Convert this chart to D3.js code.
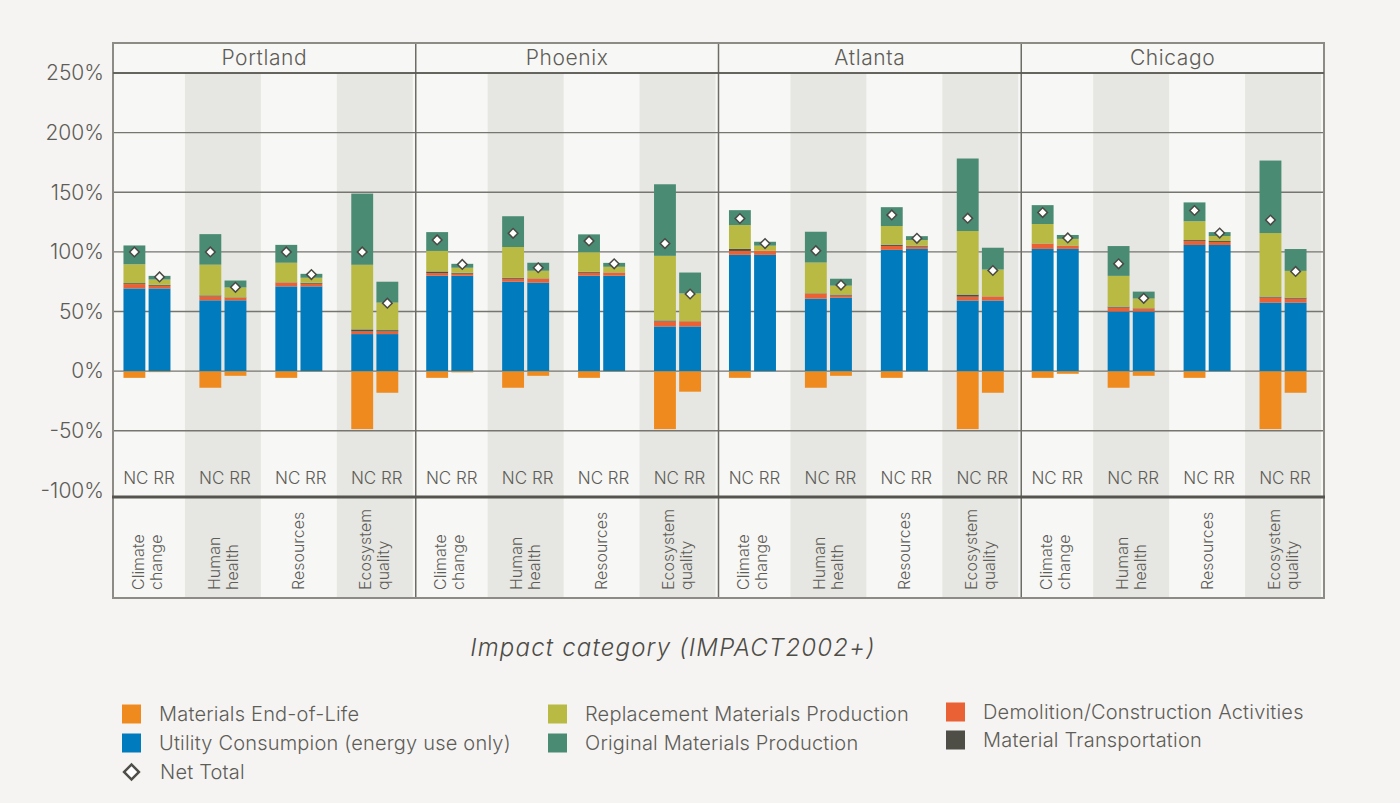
<!DOCTYPE html>
<html>
<head>
<meta charset="utf-8">
<script src="https://cdn.jsdelivr.net/npm/d3@7.9.0/dist/d3.min.js"></script>
<style>
  body { margin: 0; background: #f5f4f2; }
  svg { display: block; font-family: Inter, "Open Sans", sans-serif; font-weight: 300; }
</style>
</head>
<body>
<svg id="chart" width="1400" height="803"></svg>
<script>
const cities = ["Portland", "Phoenix", "Atlanta", "Chicago"];
const categories = ["Climate change", "Human health", "Resources", "Ecosystem quality"];
const scenarios = ["NC", "RR"];
const yTicks = [-100, -50, 0, 50, 100, 150, 200, 250];

// one value per bar, ordered city -> category -> NC, RR (percent)
const endOfLife = [
  -5.6, -0.8, -13.9, -3.9, -5.6, -0.5, -48.6, -18.1,
  -5.6, -1.0, -13.9, -3.9, -5.6, -0.5, -48.6, -17.2,
  -5.6, -0.3, -13.9, -3.9, -5.6, -0.3, -48.6, -18.1,
  -5.6, -2.2, -13.9, -3.9, -5.6, -0.3, -48.6, -18.1
];
const utility = [
  69.4, 69.4, 59.4, 59.4, 71.1, 71.1, 31.1, 31.1,
  80.0, 80.0, 75.0, 74.2, 80.0, 80.0, 37.5, 37.5,
  97.5, 97.5, 60.8, 61.7, 101.7, 102.5, 59.2, 59.2,
  102.5, 102.5, 50.0, 50.0, 105.8, 105.8, 57.5, 57.5
];
const demolition = [
  3.6, 2.2, 3.3, 2.2, 3.1, 2.2, 2.2, 2.2,
  2.2, 1.7, 2.5, 3.3, 2.5, 2.5, 4.2, 4.2,
  3.3, 3.3, 4.2, 1.7, 3.3, 1.9, 3.3, 3.3,
  4.2, 2.5, 3.3, 2.5, 3.3, 2.5, 4.2, 3.3
];
const transport = [
  0.8, 0.8, 0.8, 0.3, 0.3, 0.8, 1.7, 1.1,
  1.4, 0.8, 0.8, 0.3, 0.8, 0.3, 0.8, 0.2,
  1.7, 0.2, 0.3, 0.8, 1.1, 0.8, 1.7, 0.2,
  0.3, 0.3, 0.8, 0.3, 0.8, 0.8, 0.8, 0.8
];
const replacement = [
  15.8, 4.4, 25.8, 8.3, 16.4, 4.2, 54.2, 23.1,
  17.2, 4.2, 25.8, 6.4, 16.4, 4.7, 54.2, 23.3,
  20.0, 4.2, 25.8, 7.5, 15.6, 4.7, 53.3, 22.5,
  16.4, 5.6, 25.8, 8.1, 15.8, 4.2, 53.3, 22.5
];
const original = [
  15.8, 3.1, 25.6, 5.8, 15.0, 3.3, 59.7, 17.5,
  15.8, 3.3, 25.8, 6.7, 15.0, 3.3, 60.0, 17.5,
  12.5, 3.3, 25.8, 5.8, 15.8, 3.3, 60.8, 18.3,
  15.8, 3.3, 25.0, 5.8, 15.8, 3.3, 60.8, 18.3
];
const netTotal = [
  100, 79, 100, 70.3, 100, 81, 100, 57,
  110, 89.5, 115.6, 86.7, 109.2, 90, 107, 64.7,
  128, 107, 101, 72.2, 131, 111.4, 128.3, 84.4,
  133, 111.7, 90, 61.1, 134.7, 115.8, 126.7, 83.6
];

const seriesKeys = ["endOfLife", "utility", "demolition", "transport", "replacement", "original"];
const seriesData = { endOfLife, utility, demolition, transport, replacement, original };
const colors = {
  endOfLife: "#ef8b1e",
  utility: "#007bbd",
  demolition: "#ea6135",
  transport: "#4f4e46",
  replacement: "#b8ba43",
  original: "#4a8b73"
};

const rows = [];
cities.forEach((city, i) => {
  categories.forEach((cat, j) => {
    scenarios.forEach((sc, k) => {
      const n = i * 8 + j * 2 + k;
      const row = { city, cat, sc, net: netTotal[n] };
      seriesKeys.forEach((key) => (row[key] = seriesData[key][n]));
      rows.push(row);
    });
  });
});

const stacked = d3.stack().keys(seriesKeys).offset(d3.stackOffsetDiverging)(rows);

const plot = { left: 113, right: 1324, top: 43, strip: 73, bottom: 497, base: 598 };
const textColor = "#5e5d58";

const svg = d3.select("#chart");
svg.append("rect").attr("width", 1400).attr("height", 803).attr("fill", "#f5f4f2");

const y = d3.scaleLinear().domain([-105.5, 250]).range([plot.bottom, plot.strip]);
const fx = d3.scaleBand().domain(cities).range([plot.left, plot.right]);
const panelW = fx.bandwidth();
const cx = d3.scaleBand().domain(categories).range([-4, panelW - 3]);
const sx = d3.scaleBand().domain(scenarios).range([-23.5, 23.5]).paddingInner(0.13);

const catCenter = (city, cat) => fx(city) + cx(cat) + cx.bandwidth() / 2;
const barX = (d) => catCenter(d.city, d.cat) + sx(d.sc);

// panel background
svg.append("rect")
  .attr("x", plot.left).attr("y", plot.top)
  .attr("width", plot.right - plot.left).attr("height", plot.base - plot.top)
  .attr("fill", "#f7f7f5");

// shaded category bands
const shaded = [];
cities.forEach((city) => {
  categories.forEach((cat, j) => {
    if (j % 2 === 1) shaded.push({ city, cat });
  });
});
svg.append("g")
  .selectAll("rect")
  .data(shaded)
  .join("rect")
  .attr("x", (d) => fx(d.city) + Math.max(0, cx(d.cat)))
  .attr("width", (d) => Math.min(panelW, cx(d.cat) + cx.bandwidth()) - Math.max(0, cx(d.cat)))
  .attr("y", plot.strip)
  .attr("height", plot.base - plot.strip)
  .attr("fill", "#e6e6e2");

// gridlines
svg.append("g")
  .selectAll("line")
  .data(yTicks.filter((t) => t > -100))
  .join("line")
  .attr("x1", plot.left).attr("x2", plot.right)
  .attr("y1", (d) => y(d)).attr("y2", (d) => y(d))
  .attr("stroke", "#76756f")
  .attr("stroke-width", 1.4);

// stacked bars
svg.append("g")
  .selectAll("g")
  .data(stacked)
  .join("g")
  .attr("fill", (s) => colors[s.key])
  .selectAll("rect")
  .data((s) => s)
  .join("rect")
  .attr("x", (d) => barX(d.data))
  .attr("width", sx.bandwidth())
  .attr("y", (d) => y(Math.max(d[0], d[1])))
  .attr("height", (d) => Math.abs(y(d[0]) - y(d[1])));

// net total diamonds
svg.append("g")
  .selectAll("path")
  .data(rows)
  .join("path")
  .attr("d", d3.symbol(d3.symbolSquare, 46))
  .attr("transform", (d) => `translate(${barX(d) + sx.bandwidth() / 2},${y(d.net)}) rotate(45)`)
  .attr("fill", "#fff")
  .attr("stroke", "#4a4944")
  .attr("stroke-width", 1.5);

// panel separators and frame
svg.append("g")
  .selectAll("line")
  .data(cities.slice(1))
  .join("line")
  .attr("x1", (d) => fx(d)).attr("x2", (d) => fx(d))
  .attr("y1", plot.top).attr("y2", plot.base)
  .attr("stroke", "#6d6c67")
  .attr("stroke-width", 1.5);

svg.append("rect")
  .attr("x", plot.left).attr("y", plot.top)
  .attr("width", plot.right - plot.left).attr("height", plot.base - plot.top)
  .attr("fill", "none")
  .attr("stroke", "#8c8b86")
  .attr("stroke-width", 2);

svg.append("line")
  .attr("x1", plot.left).attr("x2", plot.right)
  .attr("y1", plot.strip).attr("y2", plot.strip)
  .attr("stroke", "#55544f").attr("stroke-width", 1.4);

svg.append("line")
  .attr("x1", plot.left - 1).attr("x2", plot.right + 1)
  .attr("y1", plot.bottom).attr("y2", plot.bottom)
  .attr("stroke", "#55544f").attr("stroke-width", 3);

// city strip labels
svg.append("g")
  .selectAll("text")
  .data(cities)
  .join("text")
  .attr("x", (d) => fx(d) + panelW / 2)
  .attr("y", (plot.top + plot.strip) / 2)
  .attr("dy", "0.35em")
  .attr("text-anchor", "middle")
  .attr("font-size", 21)
  .attr("letter-spacing", 0.6)
  .attr("fill", textColor)
  .text((d) => d);

// NC RR labels
const pairs = [];
cities.forEach((city) => categories.forEach((cat) => pairs.push({ city, cat })));
svg.append("g")
  .selectAll("text")
  .data(pairs)
  .join("text")
  .attr("x", (d) => catCenter(d.city, d.cat) + 2)
  .attr("y", 478)
  .attr("dy", "0.35em")
  .attr("text-anchor", "middle")
  .attr("font-size", 17)
  .attr("fill", textColor)
  .text(scenarios.join(" "));

// rotated category labels
const catLabels = svg.append("g")
  .selectAll("g")
  .data(pairs)
  .join("g");
catLabels.each(function (d) {
  const words = d.cat.split(" ");
  const c = catCenter(d.city, d.cat);
  d3.select(this)
    .selectAll("text")
    .data(words)
    .join("text")
    .attr("transform", (w, i) => `translate(${c + (i - (words.length - 1) / 2) * 18},590) rotate(-90)`)
    .attr("dy", "0.35em")
    .attr("font-size", 16)
    .attr("fill", textColor)
    .text((w) => w);
});

// y axis
const yAxis = svg.append("g")
  .attr("transform", "translate(104,0)")
  .call(d3.axisLeft(y).tickValues(yTicks).tickSize(0).tickPadding(0).tickFormat((d) => d + "%"));
yAxis.select(".domain").remove();
yAxis.selectAll("text")
  .attr("font-size", 21)
  .attr("font-family", "Inter, 'Open Sans', sans-serif")
  .attr("font-weight", 300)
  .attr("fill", textColor);

// axis title
svg.append("text")
  .attr("x", 673)
  .attr("y", 648)
  .attr("dy", "0.35em")
  .attr("text-anchor", "middle")
  .attr("font-size", 24)
  .attr("letter-spacing", 1.2)
  .attr("font-style", "italic")
  .attr("fill", "#4d4c47")
  .text("Impact category (IMPACT2002+)");

// legend
const legendItems = [
  { key: "endOfLife", label: "Materials End-of-Life", x: 122, y: 714 },
  { key: "utility", label: "Utility Consumpion (energy use only)", x: 122, y: 743 },
  { key: "replacement", label: "Replacement Materials Production", x: 548, y: 714 },
  { key: "original", label: "Original Materials Production", x: 548, y: 743 },
  { key: "demolition", label: "Demolition/Construction Activities", x: 946, y: 712 },
  { key: "transport", label: "Material Transportation", x: 946, y: 740 }
];
const legend = svg.append("g")
  .selectAll("g")
  .data(legendItems)
  .join("g")
  .attr("transform", (d) => `translate(${d.x},${d.y})`);
legend.append("rect")
  .attr("y", -9.5)
  .attr("width", 19)
  .attr("height", 19)
  .attr("fill", (d) => colors[d.key]);
legend.append("text")
  .attr("x", 37)
  .attr("dy", "0.35em")
  .attr("font-size", 20)
  .attr("letter-spacing", 0.2)
  .attr("fill", textColor)
  .text((d) => d.label);

const netLegend = svg.append("g").attr("transform", "translate(131.5,772)");
netLegend.append("path")
  .attr("d", d3.symbol(d3.symbolSquare, 110))
  .attr("transform", "rotate(45)")
  .attr("fill", "#fff")
  .attr("stroke", "#4f4e48")
  .attr("stroke-width", 2.5);
netLegend.append("text")
  .attr("x", 28.5)
  .attr("dy", "0.35em")
  .attr("font-size", 20)
  .attr("letter-spacing", 0.2)
  .attr("fill", textColor)
  .text("Net Total");
</script>
</body>
</html>
